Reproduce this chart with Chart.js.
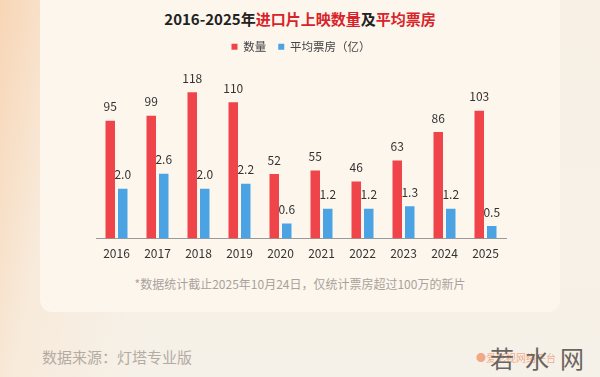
<!DOCTYPE html>
<html>
<head>
<meta charset="utf-8">
<script src="https://cdn.jsdelivr.net/npm/chart.js@4"></script>
<style>
  html, body { margin: 0; padding: 0; }
  body {
    width: 600px; height: 377px; overflow: hidden; position: relative;
    font-family: "Noto Sans CJK SC", "Noto Sans", sans-serif;
    background:
      linear-gradient(100deg, rgba(247,196,150,0.6) 0%, rgba(250,225,200,0.4) 12%, rgba(248,240,230,0) 30%),
      linear-gradient(180deg, #f8f0e5 0%, #f6f1e8 100%);
  }
  .card {
    position: absolute; left: 40px; top: -12px; width: 520px; height: 324px;
    background: #fdf6ed; border-radius: 12px;
  }
  .title {
    position: absolute; left: 0; width: 600px; top: 7px; text-align: center;
    font-size: 15px; font-weight: bold; color: #222; line-height: 24px;
  }
  .title .hl { color: #d8232a; }
  .note {
    position: absolute; left: 0; width: 600px; top: 275px; text-align: center;
    font-size: 12px; color: #a8a29c;
  }
  .source {
    position: absolute; left: 42px; top: 346px; font-size: 15px; color: #b3aca4;
  }
  .mark {
    position: absolute; left: 490px; top: 340px; font-size: 24px; color: #6a6560;
    letter-spacing: 11px;
  }
  .logo {
    position: absolute; left: 476px; top: 350px; font-size: 10px; color: rgba(236,120,70,0.6);
  }
  canvas { position: absolute; left: 0; top: 0; }
</style>
</head>
<body>
<div class="card"></div>
<div class="title">2016-2025年<span class="hl">进口片上映数量</span>及<span class="hl">平均票房</span></div>
<div class="note">*数据统计截止2025年10月24日，仅统计票房超过100万的新片</div>
<div class="source">数据来源：灯塔专业版</div>
<div class="logo">●爱影视网络平台</div>
<div class="mark">若水网</div>
<canvas id="chart" width="600" height="377"></canvas>
<script>
const years = ["2016", "2017", "2018", "2019", "2020", "2021", "2022", "2023", "2024", "2025"];
const countValues = [95, 99, 118, 110, 52, 55, 46, 63, 86, 103];
const boxOfficeValues = [2.0, 2.6, 2.0, 2.2, 0.6, 1.2, 1.2, 1.3, 1.2, 0.5];
const seriesNames = ["数量", "平均票房（亿）"];

const fontFamily = '"Noto Sans CJK SC", "Noto Sans", sans-serif';

// value labels above each bar
const valueLabels = {
    id: "valueLabels",
    afterDatasetsDraw(chart) {
        const ctx = chart.ctx;
        ctx.save();
        ctx.font = "12px " + fontFamily;
        ctx.fillStyle = "#333";
        ctx.textAlign = "center";
        ctx.textBaseline = "middle";
        chart.data.datasets.forEach((ds, i) => {
            chart.getDatasetMeta(i).data.forEach((bar, j) => {
                let v = ds.data[j];
                let txt = i === 0 ? String(v) : v.toFixed(1);
                ctx.fillText(txt, bar.x, bar.y - 14);
            });
        });
        ctx.restore();
    }
};

new Chart(document.getElementById("chart").getContext("2d"), {
    type: "bar",
    data: {
        labels: years,
        datasets: [
            { label: seriesNames[0], data: countValues, backgroundColor: "#f0444b", yAxisID: "y" },
            { label: seriesNames[1], data: boxOfficeValues, backgroundColor: "#4ba3e3", yAxisID: "y1" }
        ]
    },
    options: {
        responsive: false,
        animation: false,
        datasets: { bar: { categoryPercentage: 0.61, barPercentage: 0.76 } },
        layout: { padding: { left: 96, right: 94, top: 29, bottom: 108 } },
        plugins: {
            legend: {
                position: "top",
                labels: {
                    boxWidth: 6, boxHeight: 6, padding: 12,
                    color: "#444", font: { size: 11.5, family: fontFamily }
                }
            },
            tooltip: { enabled: false }
        },
        scales: {
            x: {
                grid: { display: false, drawTicks: false },
                border: { display: true, color: "#9a9a9a", width: 1 },
                ticks: { color: "#333", padding: 8, font: { size: 12, family: fontFamily } }
            },
            y: { display: false, min: 0, max: 142 },
            y1: { display: false, min: 0, max: 7.05 }
        }
    },
    plugins: [valueLabels]
});
</script>
</body>
</html>
